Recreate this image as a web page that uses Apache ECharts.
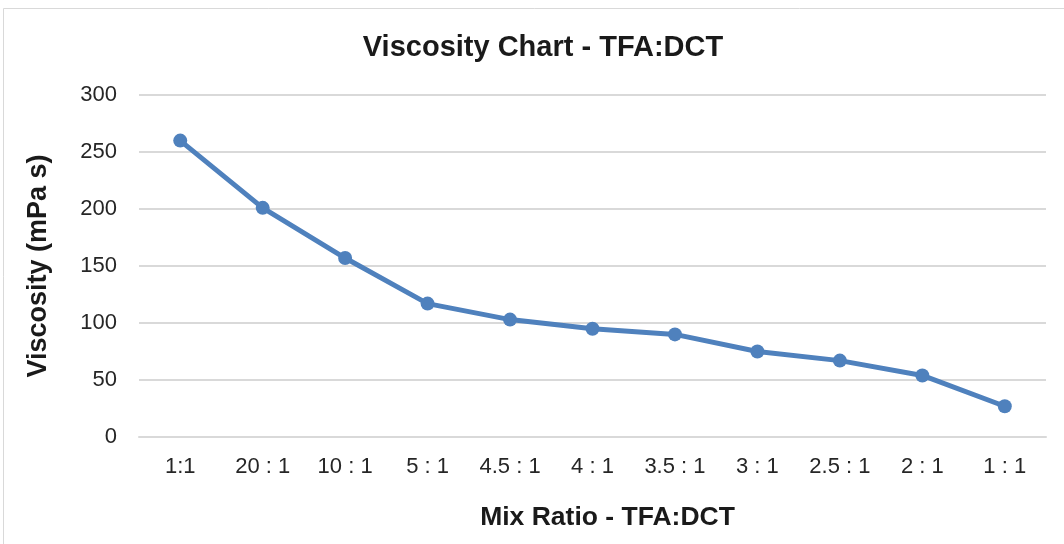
<!DOCTYPE html>
<html lang="en">
<head>
    <meta charset="utf-8">
    <title>Viscosity Chart - TFA:DCT</title>
    <script src="https://cdn.jsdelivr.net/npm/echarts@6/dist/echarts.min.js"></script>
    <style>
        html, body { margin: 0; padding: 0; background: #fff; }
        #main { width: 1064px; height: 544px; }
    </style>
</head>
<body>
<div id="main"></div>
<script type="text/javascript">
// 数据
var ratios = ['1:1', '20 : 1', '10 : 1', '5 : 1', '4.5 : 1', '4 : 1', '3.5 : 1', '3 : 1', '2.5 : 1', '2 : 1', '1 : 1'];
var viscosity = [260, 201, 157, 117, 103, 95, 90, 75, 67, 54, 27];

var myChart = echarts.init(document.getElementById('main'));
var font = '"Liberation Sans", Arial, sans-serif';

var option = {
    animation: false,
    backgroundColor: '#fff',
    graphic: [{
        type: 'rect',
        shape: { x: 3.5, y: 8.5, width: 1070, height: 560 },
        style: { fill: 'none', stroke: '#d9d9d9', lineWidth: 1 },
        silent: true
    }],
    title: {
        text: 'Viscosity Chart - TFA:DCT',
        left: 538,
        top: 28,
        textAlign: 'center',
        textStyle: { fontFamily: font, fontSize: 29, fontWeight: 'bold', color: '#1a1a1a' }
    },
    grid: {
        left: 139,
        right: 18,
        top: 95,
        bottom: 107,
        containLabel: false
    },
    xAxis: {
        type: 'category',
        data: ratios,
        boundaryGap: true,
        name: 'Mix Ratio - TFA:DCT',
        nameLocation: 'middle',
        nameGap: 67,
        nameTextStyle: { fontFamily: font, fontSize: 26.5, fontWeight: 'bold', color: '#1a1a1a', padding: [0, 0, 0, 30] },
        axisLine: { lineStyle: { color: '#d9d9d9', width: 2 } },
        axisTick: { show: false },
        axisLabel: { fontFamily: font, fontSize: 22, color: '#262626', margin: 19 }
    },
    yAxis: {
        type: 'value',
        min: 0,
        max: 300,
        interval: 50,
        name: 'Viscosity (mPa s)',
        nameLocation: 'middle',
        nameGap: 87,
        nameTextStyle: { fontFamily: font, fontSize: 27, fontWeight: 'bold', color: '#1a1a1a' },
        axisLine: { show: false },
        axisTick: { show: false },
        axisLabel: { fontFamily: font, fontSize: 22, color: '#262626', margin: 22 },
        splitLine: { lineStyle: { color: '#d9d9d9', width: 2 } }
    },
    series: [{
        type: 'line',
        data: viscosity,
        symbol: 'circle',
        symbolSize: 14,
        lineStyle: { color: '#4f81bd', width: 5 },
        itemStyle: { color: '#4f81bd' }
    }]
};

myChart.setOption(option);
</script>
</body>
</html>
